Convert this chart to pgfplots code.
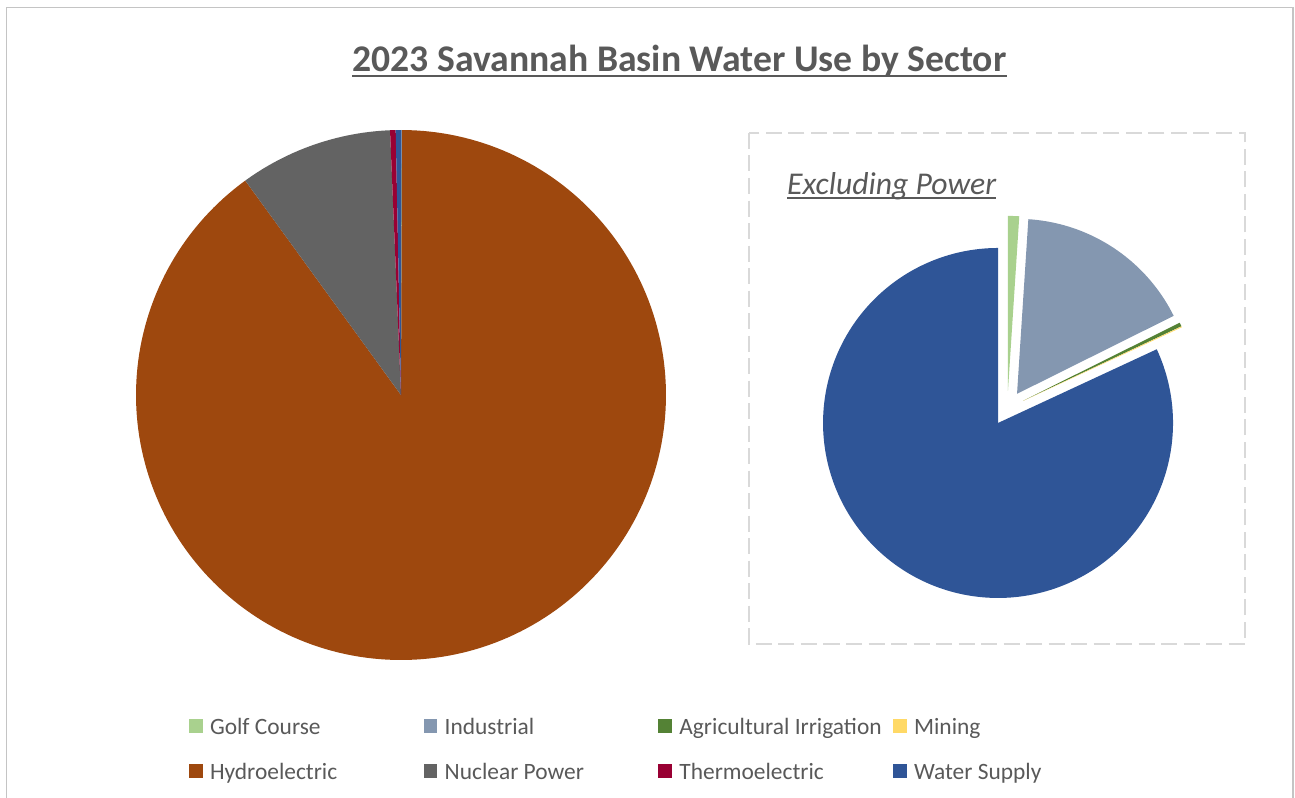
\documentclass[border=0pt]{standalone}
\usepackage{pgfplots}
\pgfplotsset{compat=1.18}
\usepackage{fontspec}
\setmainfont{Carlito}
\definecolor{golfc}{HTML}{A9D18E}
\definecolor{indusc}{HTML}{8497B0}
\definecolor{agric}{HTML}{548235}
\definecolor{miningc}{HTML}{FFD966}
\definecolor{hydroc}{HTML}{9E480E}
\definecolor{nuclearc}{HTML}{636363}
\definecolor{thermoc}{HTML}{990033}
\definecolor{waterc}{HTML}{2F5597}
\definecolor{txtc}{HTML}{595959}
\definecolor{framec}{HTML}{C4C4C4}
\definecolor{dashc}{HTML}{D9D9D9}

% pie helpers: centre x, centre y, radius, explosion distance (picture units)
\newcommand\pieinit[4]{\def\pcx{#1}\def\pcy{#2}\def\pr{#3}\def\pex{#4}\def\cum{0}}
% \slice[extra options]{colour}{percentage}
\newcommand\slice[3][]{%
  \pgfmathsetmacro\aA{90-3.6*(\cum+#3)}%
  \pgfmathsetmacro\aB{90-3.6*\cum}%
  \pgfmathsetmacro\am{(\aA+\aB)/2}%
  \pgfmathsetmacro\ox{\pcx+\pex*cos(\am)}%
  \pgfmathsetmacro\oy{\pcy-\pex*sin(\am)}%
  \pgfmathtruncatemacro\ns{max(2,(\aB-\aA)/1.5+2)}%
  \pgfmathsetmacro\cum{\cum+#3}%
  \edef\tmp{\noexpand\addplot[fill=#2, draw=none, domain=\aA:\aB, samples=\ns, #1]
    ({\ox+\pr*cos(x)},{\oy-\pr*sin(x)}) -- (\ox,\oy) -- cycle;}%
  \tmp
}

\begin{document}
\begin{tikzpicture}
\begin{axis}[
  at={(0,0)}, anchor=south west,
  scale only axis, width=1295bp, height=798bp,
  xmin=0, xmax=1295, ymin=0, ymax=798, y dir=reverse,
  hide axis, clip=false,
  legend columns=4,
  legend cell align=left,
  legend image code/.code={\fill[#1] (0bp,-6.85bp) rectangle (13.7bp,6.85bp);},
  legend style={at={(axis cs:189,715)}, anchor=north west,
    draw=none, fill=none, inner sep=0pt, outer sep=0pt,
    column sep=0pt, row sep=22.4bp,
    font=\fontsize{23.5}{28}\selectfont, text=txtc,
    nodes={inner sep=0pt, text height=19.6bp, text depth=3bp}},
]
% chart frame and inset box
\draw[framec, line width=1.3bp] (axis cs:6.5,798) -- (axis cs:6.5,7.5) -- (axis cs:1293,7.5) -- (axis cs:1293,798);
\draw[dashc, line width=2bp, dash pattern=on 16bp off 6.5bp] (axis cs:749,133) rectangle (axis cs:1245,643.5);

% ---- all sectors (percent of total) ----
\pieinit{401}{395}{265}{0}
\slice{golfc}{0.0040}      \addlegendentry{\makebox[221bp][l]{\hspace{7.3bp}Golf Course}}
\slice{indusc}{0.0648}     \addlegendentry{\makebox[221bp][l]{\hspace{7.3bp}Industrial}}
\slice{agric}{0.0014}      \addlegendentry{\makebox[221bp][l]{\hspace{7.3bp}Agricultural Irrigation}}
\slice{miningc}{0.0003}    \addlegendentry{\makebox[221bp][l]{\hspace{7.3bp}Mining}}
\slice{hydroc}{89.9300}    \addlegendentry{\makebox[221bp][l]{\hspace{7.3bp}Hydroelectric}}
\slice{nuclearc}{9.3400}   \addlegendentry{\makebox[221bp][l]{\hspace{7.3bp}Nuclear Power}}
\slice{thermoc}{0.3400}    \addlegendentry{\makebox[221bp][l]{\hspace{7.3bp}Thermoelectric}}
\slice{waterc}{0.3195}     \addlegendentry{\makebox[221bp][l]{\hspace{7.3bp}Water Supply}}

% ---- excluding power (percent of non-power use) ----
\pieinit{1007.4}{408.3}{175}{17.4}
\slice[forget plot]{golfc}{1.03}
\slice[forget plot]{indusc}{16.62}
\slice[forget plot]{agric}{0.35}
\slice[forget plot]{miningc}{0.08}
\slice[forget plot]{waterc}{81.92}

% titles
\node[anchor=base, inner sep=0pt, text=txtc, font=\bfseries\fontsize{37.8}{45}\selectfont] (T) at (axis cs:679.5,71.7) {2023 Savannah Basin Water Use by Sector};
\draw[txtc, line width=2.3bp] ([yshift=-4.5bp]T.base west) -- ([yshift=-4.5bp]T.base east);
\node[anchor=base west, inner sep=0pt, text=txtc, font=\itshape\fontsize{31.8}{38}\selectfont] (E) at (axis cs:787,194) {Excluding Power};
\draw[txtc, line width=1.5bp] ([yshift=-4bp]E.base west) -- ([yshift=-4bp]E.base east);
\end{axis}
\pgfresetboundingbox
\path (0,0) rectangle (1295bp,798bp);
\end{tikzpicture}
\end{document}
